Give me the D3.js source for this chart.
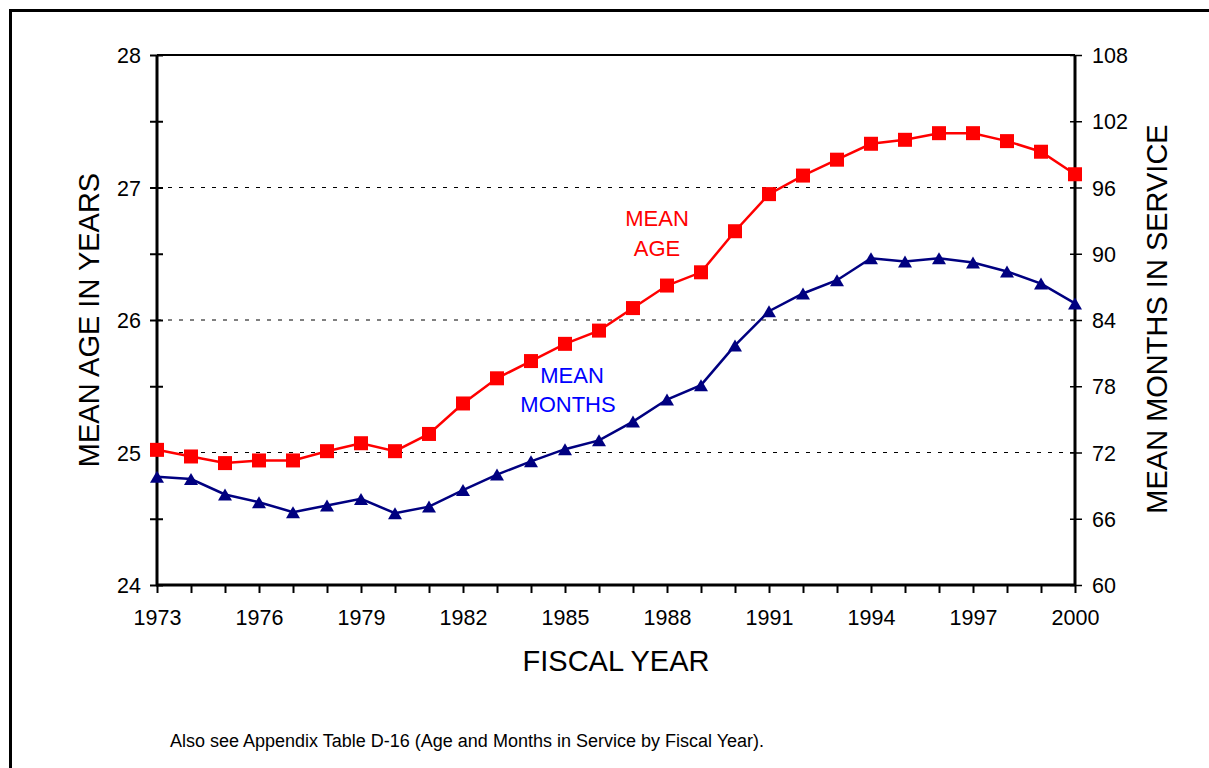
<!DOCTYPE html>
<html><head><meta charset="utf-8">
<script src="https://cdn.jsdelivr.net/npm/d3@7"></script>
<style>body{margin:0;background:#fff;} svg{display:block;font-family:"Liberation Sans",Arial,sans-serif;}</style>
</head><body>
<svg id="c" width="1209" height="768"></svg>
<script>
const years = d3.range(1973, 2001);
const meanAge = [25.02,24.97,24.92,24.94,24.94,25.01,25.07,25.01,25.14,25.37,25.56,25.69,25.82,25.92,26.09,26.26,26.36,26.67,26.95,27.09,27.21,27.33,27.36,27.41,27.41,27.35,27.27,27.10];
const meanMonths = [69.8,69.6,68.2,67.5,66.6,67.2,67.8,66.5,67.1,68.6,70.0,71.2,72.3,73.1,74.8,76.8,78.1,81.7,84.8,86.4,87.6,89.6,89.3,89.6,89.2,88.4,87.3,85.5];
const leftTicks = [24,25,26,27,28];
const rightTicks = [60,66,72,78,84,90,96,102,108];
const xLabelYears = [1973,1976,1979,1982,1985,1988,1991,1994,1997,2000];

const svg = d3.select("#c");
const L=157, R=1075, T=55, B=585;
const x = d3.scaleLinear().domain([1973,2000]).range([L,R]);
const yA = d3.scaleLinear().domain([24,28]).range([B,T]);
const yM = d3.scaleLinear().domain([60,108]).range([B,T]);

// outer frame
svg.append("path").attr("d","M10.5,790 L10.5,10.5 L1220,10.5").attr("fill","none").attr("stroke","#000").attr("stroke-width",3);

// gridlines
svg.append("g").selectAll("line").data([25,26,27]).join("line")
  .attr("x1",L).attr("x2",R).attr("y1",d=>yA(d)).attr("y2",d=>yA(d))
  .attr("stroke","#000").attr("stroke-width",1).attr("stroke-dasharray","4,7");

// top border
svg.append("line").attr("x1",L).attr("x2",R).attr("y1",T).attr("y2",T).attr("stroke","#000").attr("stroke-width",2);

// left axis
const gl = svg.append("g").attr("transform",`translate(${L},0)`)
  .call(d3.axisLeft(yA).tickValues(d3.range(24,28.01,0.5)).tickSize(7).tickFormat(d=>leftTicks.includes(d)?d:""));
gl.select(".domain").remove();
gl.selectAll(".tick line").attr("x2",-7).attr("x1",6).attr("stroke-width",2);
gl.selectAll(".tick text").attr("font-size",21.5).attr("fill","#000").attr("x",-16).attr("dy","0.35em");
svg.append("line").attr("x1",L).attr("x2",L).attr("y1",T).attr("y2",B).attr("stroke","#000").attr("stroke-width",3);

// right axis
const gr = svg.append("g").attr("transform",`translate(${R},0)`)
  .call(d3.axisRight(yM).tickValues(rightTicks).tickSize(7));
gr.select(".domain").remove();
gr.selectAll(".tick line").attr("x1",-5).attr("x2",7).attr("stroke-width",1.5);
gr.selectAll(".tick text").attr("font-size",21.5).attr("fill","#000").attr("x",17).attr("dy","0.35em");
svg.append("line").attr("x1",R).attr("x2",R).attr("y1",T).attr("y2",B).attr("stroke","#000").attr("stroke-width",3);

// bottom axis
const gb = svg.append("g").attr("transform",`translate(0,${B})`)
  .call(d3.axisBottom(x).tickValues(years).tickSize(8).tickFormat(d=>xLabelYears.includes(d)?d:""));
gb.select(".domain").remove();
gb.selectAll(".tick line").attr("stroke-width",2);
gb.selectAll(".tick text").attr("font-size",21.5).attr("fill","#000").attr("y",25).attr("dy","0.71em");
svg.append("line").attr("x1",L-1).attr("x2",R+1).attr("y1",B).attr("y2",B).attr("stroke","#000").attr("stroke-width",3);

// lines
svg.append("path").datum(meanAge)
  .attr("d",d3.line().x((d,i)=>x(years[i])).y(d=>yA(d)))
  .attr("fill","none").attr("stroke","#ff0000").attr("stroke-width",2.5);
svg.append("path").datum(meanMonths)
  .attr("d",d3.line().x((d,i)=>x(years[i])).y(d=>yM(d)))
  .attr("fill","none").attr("stroke","#000080").attr("stroke-width",2.5);

// markers
svg.append("g").selectAll("rect").data(meanAge).join("rect")
  .attr("x",(d,i)=>x(years[i])-7).attr("y",d=>yA(d)-7).attr("width",14).attr("height",14).attr("fill","#ff0000");
svg.append("g").selectAll("path").data(meanMonths).join("path")
  .attr("d",(d,i)=>{const cx=x(years[i]), cy=yM(d); return `M${cx-7},${cy+6} L${cx+7},${cy+6} L${cx},${cy-6} Z`;})
  .attr("fill","#000080");

// series labels
svg.append("text").attr("x",657).attr("y",226).attr("text-anchor","middle").attr("font-size",22).attr("fill","#ff0000").text("MEAN");
svg.append("text").attr("x",657).attr("y",256).attr("text-anchor","middle").attr("font-size",22).attr("fill","#ff0000").text("AGE");
svg.append("text").attr("x",572).attr("y",383).attr("text-anchor","middle").attr("font-size",22).attr("fill","#0000ff").text("MEAN");
svg.append("text").attr("x",568).attr("y",412).attr("text-anchor","middle").attr("font-size",22).attr("fill","#0000ff").text("MONTHS");

// axis titles
svg.append("text").attr("transform","translate(99,320) rotate(-90)").attr("text-anchor","middle").attr("font-size",29).attr("fill","#000").text("MEAN AGE IN YEARS");
svg.append("text").attr("transform","translate(1167,319) rotate(-90)").attr("text-anchor","middle").attr("font-size",29).attr("fill","#000").text("MEAN MONTHS IN SERVICE");
svg.append("text").attr("x",616).attr("y",671).attr("text-anchor","middle").attr("font-size",29).attr("fill","#000").text("FISCAL YEAR");
svg.append("text").attr("x",170).attr("y",747).attr("font-size",18).attr("fill","#000").text("Also see Appendix Table D-16 (Age and Months in Service by Fiscal Year).");
</script>
</body></html>
